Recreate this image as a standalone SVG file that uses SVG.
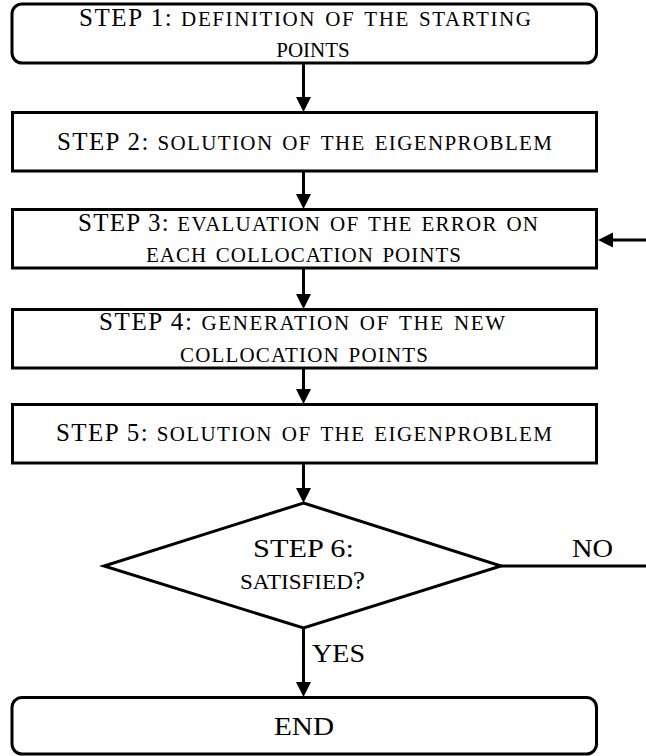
<svg xmlns="http://www.w3.org/2000/svg" width="646" height="756" viewBox="0 0 646 756">
  <style>
    .box { fill: #ffffff; stroke: #000000; stroke-width: 3; }
    .dia { fill: #ffffff; stroke: #000000; stroke-width: 3; stroke-linejoin: miter; }
    .t { font-family: "Liberation Serif", "DejaVu Serif", serif; font-size: 25px; fill: #000000; }
    .sc { font-variant: small-caps; font-size: 30px; }
    .edge { fill: none; stroke: #000000; stroke-width: 3; }
  </style>
  <defs>
    <marker id="arrow" markerUnits="userSpaceOnUse" markerWidth="16" markerHeight="16" refX="2" refY="7.5" orient="auto" viewBox="0 0 16 16">
      <path d="M0,0 L15,7.5 L0,15 Z" fill="#000000"/>
    </marker>
  </defs>

  <g id="connectors">
    <line class="edge" x1="303.5" y1="63" x2="303.5" y2="99" marker-end="url(#arrow)"/>
    <line class="edge" x1="303.5" y1="171" x2="303.5" y2="196" marker-end="url(#arrow)"/>
    <line class="edge" x1="303.5" y1="268" x2="303.5" y2="296" marker-end="url(#arrow)"/>
    <line class="edge" x1="303.5" y1="368" x2="303.5" y2="391" marker-end="url(#arrow)"/>
    <line class="edge" x1="303.5" y1="463" x2="303.5" y2="490" marker-end="url(#arrow)"/>
    <line class="edge" x1="303.5" y1="628" x2="303.5" y2="684" marker-end="url(#arrow)"/>
    <path class="edge" d="M501,566 L670,566 L670,240 L611,240" marker-end="url(#arrow)"/>
    <text class="t" x="572" y="557" textLength="41" lengthAdjust="spacingAndGlyphs">NO</text>
    <text class="t" x="312" y="662" textLength="53" lengthAdjust="spacingAndGlyphs">YES</text>
  </g>

  <g id="step1">
    <rect class="box" x="12" y="4" width="584.5" height="59" rx="10" ry="10"/>
    <text class="t" x="79" y="26" textLength="452" lengthAdjust="spacing">STEP 1: <tspan class="sc">definition of the starting</tspan></text>
    <text class="t" x="313" y="57" text-anchor="middle"><tspan class="sc">points</tspan></text>
  </g>

  <g id="step2">
    <rect class="box" x="12.5" y="112.5" width="584" height="58.5"/>
    <text class="t" x="57" y="149.5" textLength="495" lengthAdjust="spacing">STEP 2: <tspan class="sc">solution of the eigenproblem</tspan></text>
  </g>

  <g id="step3">
    <rect class="box" x="12.5" y="209.5" width="584" height="58.5"/>
    <text class="t" x="78" y="231" textLength="460" lengthAdjust="spacing">STEP 3: <tspan class="sc">evaluation of the error on</tspan></text>
    <text class="t" x="146" y="262" textLength="315" lengthAdjust="spacing"><tspan class="sc">each collocation points</tspan></text>
  </g>

  <g id="step4">
    <rect class="box" x="12.5" y="309.5" width="584" height="58.5"/>
    <text class="t" x="99" y="330" textLength="406" lengthAdjust="spacing">STEP 4: <tspan class="sc">generation of the new</tspan></text>
    <text class="t" x="180" y="362" textLength="248" lengthAdjust="spacing"><tspan class="sc">collocation points</tspan></text>
  </g>

  <g id="step5">
    <rect class="box" x="12.5" y="404.5" width="584" height="58.5"/>
    <text class="t" x="56" y="440.5" textLength="496" lengthAdjust="spacing">STEP 5: <tspan class="sc">solution of the eigenproblem</tspan></text>
  </g>

  <g id="step6">
    <polygon class="dia" points="303.5,503 501,566 303.5,628 104,566"/>
    <text class="t" x="253" y="557" textLength="101" lengthAdjust="spacingAndGlyphs">STEP 6:</text>
    <text class="t" x="240" y="589" textLength="125" lengthAdjust="spacingAndGlyphs"><tspan class="sc">satisfied</tspan>?</text>
  </g>

  <g id="end">
    <rect class="box" x="12" y="697.5" width="584.5" height="56.5" rx="10" ry="10"/>
    <text class="t" x="274" y="735" textLength="60" lengthAdjust="spacingAndGlyphs">END</text>
  </g>
</svg>
